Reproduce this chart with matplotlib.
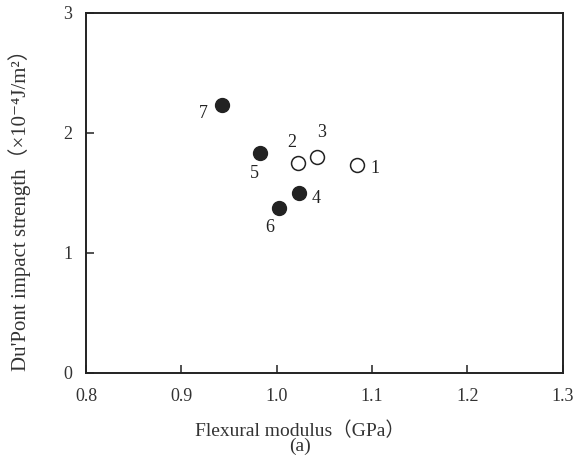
import matplotlib
matplotlib.use("Agg")
import matplotlib.pyplot as plt

plt.rcParams['font.family'] = ['Liberation Serif', 'DejaVu Serif', 'Noto Sans CJK JP']

# sample number, flexural modulus (GPa), Du'Pont impact strength (x1e-4 J/m2)
open_ids = ["1", "2", "3"]
open_x = [1.084, 1.022, 1.042]
open_y = [1.73, 1.75, 1.80]

filled_ids = ["4", "5", "6", "7"]
filled_x = [1.023, 0.982, 1.002, 0.943]
filled_y = [1.50, 1.83, 1.375, 2.23]

xticks = [0.8, 0.9, 1.0, 1.1, 1.2, 1.3]
xticklabels = ["0.8", "0.9", "1.0", "1.1", "1.2", "1.3"]
yticks = [0, 1, 2, 3]

# label offsets in pixels
offsets = {"1": (18, -3), "2": (-6, 20), "3": (5, 24), "4": (17, -6),
           "5": (-5, -20), "6": (-9, -20), "7": (-19, -8)}

fig = plt.figure(figsize=(5.85, 4.57), dpi=100)
ax = fig.add_axes([0.147, 0.184, 0.815, 0.788])

ax.plot(open_x, open_y, 'o', ms=10, mfc='white', mec='#222', mew=1.1, ls='none')
ax.plot(filled_x, filled_y, 'o', ms=10, mfc='#222', mec='#222', ls='none')

for ids, xs, ys in [(open_ids, open_x, open_y), (filled_ids, filled_x, filled_y)]:
    for i, x, y in zip(ids, xs, ys):
        ax.annotate(i, (x, y), xytext=offsets[i], textcoords='offset pixels',
                    ha='center', va='center', fontsize=13, color='#222')

ax.set_xlim(0.8, 1.3)
ax.set_ylim(0, 3)
ax.set_xticks(xticks)
ax.set_xticklabels(xticklabels)
ax.set_yticks(yticks)
ax.tick_params(direction='in', length=6, width=1.2, labelsize=13, colors='#333',
               top=False, right=False)
ax.tick_params(axis='x', pad=11)
ax.tick_params(axis='y', pad=10)
for s in ax.spines.values():
    s.set_linewidth(1.4)
    s.set_color('#222')

ax.set_xlabel("Flexural modulus（GPa）\n(a)", fontsize=14, color='#333', linespacing=0.85)
ax.xaxis.set_label_coords(0.449, -0.135)
ax.set_ylabel("Du'Pont impact strength（×10⁻⁴J/m²）", fontsize=15, color='#333')
ax.yaxis.set_label_coords(-0.115, 0.467)

fig.savefig("out.png", dpi=100)
